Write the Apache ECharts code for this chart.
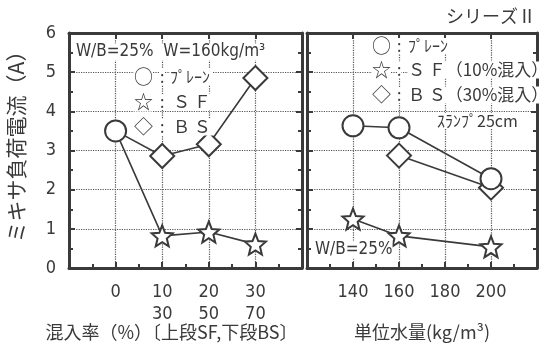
<!DOCTYPE html>
<html><head><meta charset="utf-8">
<script src="https://cdn.jsdelivr.net/npm/echarts@6/dist/echarts.min.js"></script>
<style>html,body{margin:0;padding:0;background:#fff}#c{width:542px;height:345px}</style>
</head><body><div id="c"></div>
<script>
// Left panel: admixture ratio (upper row SF %, lower row BS %)
const sfPct = ['0', '10', '20', '30'];
const bsPct = ['', '30', '50', '70'];
const plainLeft = [3.5];
const sfLeft = [3.5, 0.82, 0.92, 0.61];
const bsLeft = [3.5, 2.86, 3.16, 4.85];
// Right panel: unit water content
const waterPlain = [140, 160, 200];
const plainRight = [3.63, 3.58, 2.28];
const waterBS = [160, 200];
const bsRight = [2.87, 2.05];
const waterSF = [140, 160, 200];
const sfRight = [1.25, 0.82, 0.54];
const yTicks = [0, 1, 2, 3, 4, 5, 6];

const STAR = 'path://M50 0 L62.93 32.2 L97.55 34.55 L70.92 56.8 L79.39 90.45 L50 72 L20.61 90.45 L29.08 56.8 L2.45 34.55 L37.07 32.2 Z';
const INK = '#3a3a3a';
const NUMF = "'Liberation Sans Narrow','DejaVu Sans Condensed','Liberation Sans',sans-serif";
const CJK = "'Noto Sans CJK JP',sans-serif";

const chart = echarts.init(document.getElementById('c'), null, {renderer: 'canvas'});

const gridLine = {show: true, lineStyle: {color: '#555', type: 'dotted', width: 1.2}};

function ax(kind, gi, pos, min, max, interval, tickLen, lineShow, extra) {
  return Object.assign({
    type: 'value', gridIndex: gi, position: pos, min, max, interval,
    axisLine: {show: lineShow, onZero: false, lineStyle: {color: INK, width: 3}},
    axisTick: {show: true, inside: true, length: tickLen, lineStyle: {color: INK, width: 2}},
    splitLine: {show: false},
    axisLabel: {show: false}
  }, extra || {});
}

const yMin = yTicks[0], yMax = yTicks[yTicks.length - 1];
const yAxes = [
  ax('y', 0, 'left', yMin, yMax, 1, 6, true, {
    splitLine: gridLine,
    axisLabel: {show: true, margin: 13, fontFamily: NUMF, fontSize: 18, color: INK},
    name: 'ミキサ負荷電流（A）', nameLocation: 'middle', nameRotate: 90, nameGap: 42, nameMoveOverlap: false,
    nameTextStyle: {fontFamily: CJK, fontSize: 21, color: INK, padding: [0, 0, 0, 18]}
  }),
  ax('y', 0, 'left', yMin, yMax, 0.5, 4, false),
  ax('y', 0, 'right', yMin, yMax, 1, 6, true),
  ax('y', 0, 'right', yMin, yMax, 0.5, 4, false),
  ax('y', 1, 'left', yMin, yMax, 1, 6, true, {splitLine: gridLine}),
  ax('y', 1, 'left', yMin, yMax, 0.5, 4, false),
  ax('y', 1, 'right', yMin, yMax, 1, 6, true),
  ax('y', 1, 'right', yMin, yMax, 0.5, 4, false)
];

const xAxes = [
  ax('x', 0, 'bottom', -1, sfPct.length, 1, 6, true, {
    splitLine: gridLine,
    axisLabel: {
      show: true, margin: 13, fontFamily: NUMF, fontSize: 18, color: INK, lineHeight: 22,
      formatter: v => (Number.isInteger(v) && v >= 0 && v < sfPct.length) ? (bsPct[v] ? sfPct[v] + '\n' + bsPct[v] : sfPct[v] + '\n ') : ''
    },
    name: '混入率（%）〔上段SF,下段BS〕', nameLocation: 'middle', nameGap: 55, nameMoveOverlap: false,
    nameTextStyle: {fontFamily: CJK, fontSize: 18, color: INK, padding: [0, 28, 0, 0]}
  }),
  ax('x', 0, 'bottom', -1, sfPct.length, 0.5, 4, false),
  ax('x', 0, 'top', -1, sfPct.length, 1, 6, true),
  ax('x', 1, 'bottom', 120, 220, 20, 6, true, {
    splitLine: gridLine,
    axisLabel: {
      show: true, margin: 13, fontFamily: NUMF, fontSize: 18, color: INK, lineHeight: 22,
      formatter: v => (v > 120 && v < 220) ? String(v) + '\n ' : ''
    },
    name: '単位水量(kg/m³)', nameLocation: 'middle', nameGap: 55, nameMoveOverlap: false,
    nameTextStyle: {fontFamily: CJK, fontSize: 18, color: INK}
  }),
  ax('x', 1, 'bottom', 120, 220, 10, 4, false),
  ax('x', 1, 'top', 120, 220, 20, 6, true)
];

const lineStyle = {color: INK, width: 1.6};
const symStyle = {color: '#fff', borderColor: INK, borderWidth: 2};

function mk(name, xi, yi, data, symbol, size, z) {
  return {name, type: 'line', xAxisIndex: xi, yAxisIndex: yi, data, symbol, symbolSize: size,
    showSymbol: true, lineStyle, itemStyle: symStyle, z, animation: false, silent: true};
}

const series = [
  mk('SF', 0, 0, sfLeft.map((v, i) => i === 0 ? {value: [i, v], symbol: 'none'} : [i, v]), STAR, 21, 4),
  mk('BS', 0, 0, bsLeft.map((v, i) => i === 0 ? {value: [i, v], symbol: 'none'} : [i, v]), 'diamond', [24, 24], 5),
  mk('プレーン', 0, 0, plainLeft.map((v, i) => [i, v]), 'circle', 21, 6),
  mk('SF', 3, 4, waterSF.map((w, i) => [w, sfRight[i]]), STAR, 21, 4),
  mk('BS', 3, 4, waterBS.map((w, i) => [w, bsRight[i]]), 'diamond', [24, 24], 5),
  mk('プレーン', 3, 4, waterPlain.map((w, i) => [w, plainRight[i]]), 'circle', 21, 6)
];

function txt(x, y, text, size, font, extra) {
  return {type: 'text', x, y, z: 50, style: Object.assign({
    text, fontSize: size, fontFamily: font, fill: INK, backgroundColor: '#fff', verticalAlign: 'middle'
  }, extra || {})};
}

const graphic = [
  txt(536, 16, 'シリーズⅡ', 18, CJK, {align: 'right', backgroundColor: null}),
  // left legend
  txt(74, 52, 'W/B=25%  W=160kg/m³', 17, NUMF, {padding: [0, 2]}),
  txt(134, 77, '○', 19, CJK),
  txt(160, 77, ':', 16, CJK),
  txt(170, 77, 'ﾌﾟﾚｰﾝ', 16, CJK, {padding: [0, 3, 0, 0]}),
  txt(134, 102, '☆', 19, CJK),
  txt(160, 102, ':', 16, CJK),
  txt(173, 102, 'Ｓ Ｆ', 17, CJK, {padding: [0, 3, 0, 0]}),
  txt(134, 127, '◇', 19, CJK),
  txt(160, 127, ':', 16, CJK),
  txt(173, 127, 'Ｂ Ｓ', 17, CJK, {padding: [0, 3, 0, 0]}),
  // right legend
  txt(372, 46, '○', 19, CJK),
  txt(397, 46, ':', 16, CJK),
  txt(408, 46, 'ﾌﾟﾚｰﾝ', 16, CJK),
  txt(372, 70, '☆', 19, CJK),
  txt(397, 70, ':', 16, CJK),
  txt(408, 70, 'Ｓ Ｆ（10%混入）', 17, CJK),
  txt(372, 95, '◇', 19, CJK),
  txt(397, 95, ':', 16, CJK),
  txt(408, 95, 'Ｂ Ｓ（30%混入）', 17, CJK),
  txt(437, 121, 'ｽﾗﾝﾌﾟ25cm', 16, CJK),
  txt(315, 250, 'W/B=25%', 17, NUMF)
];

chart.setOption({
  backgroundColor: '#fff',
  animation: false,
  grid: [
    {left: 69, top: 33, width: 233, height: 235, outerBoundsMode: 'none', containLabel: false},
    {left: 307, top: 33, width: 230, height: 235, outerBoundsMode: 'none', containLabel: false}
  ],
  xAxis: xAxes,
  yAxis: yAxes,
  series,
  graphic
});
</script>
</body></html>
